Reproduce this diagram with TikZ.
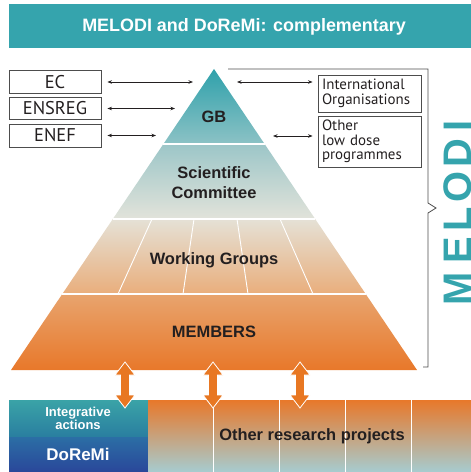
\documentclass[tikz,border=0pt]{standalone}
\usepackage{fontspec}
\setmainfont{Liberation Sans}
\newfontfamily\boxfont{PT Sans}
\usetikzlibrary{arrows.meta}
\definecolor{melteal}{HTML}{35A4AD}
\definecolor{gbtop}{HTML}{2FA1AB}
\definecolor{gbbot}{HTML}{8CC2C5}
\definecolor{sctop}{HTML}{9CC6C8}
\definecolor{scbot}{HTML}{E2E3DA}
\definecolor{wgtop}{HTML}{E5E1D6}
\definecolor{wgbot}{HTML}{E9AE7C}
\definecolor{metop}{HTML}{E8A46E}
\definecolor{mebot}{HTML}{E8782A}
\definecolor{ortop}{HTML}{E8782A}
\definecolor{ormid}{HTML}{E4E2DA}
\definecolor{orbot}{HTML}{A6CCD0}
\definecolor{iatop}{HTML}{3AA3A7}
\definecolor{iabot}{HTML}{2A7FA0}
\definecolor{drtop}{HTML}{2B6EA5}
\definecolor{drbot}{HTML}{2A479A}
\definecolor{txtdark}{HTML}{231F20}
\definecolor{boxgray}{HTML}{4D4D4D}
\definecolor{arrowor}{HTML}{E87722}
\tikzset{
  lab/.style={text=txtdark, inner sep=0pt, align=center, font=\fontsize{16.5}{20}\selectfont\bfseries},
  wlab/.style={text=white, inner sep=0pt, align=center},
  orgbox/.style={draw=boxgray, line width=0.9bp, text=txtdark, inner sep=0pt,
    font=\boxfont\fontsize{15}{14.5}\selectfont},
  leftbox/.style={orgbox, minimum width=92bp, font=\boxfont\fontsize{18.5}{20}\selectfont},
  link/.style={draw=txtdark, line width=0.7bp, {Stealth[length=4.5bp,width=3.5bp]}-{Stealth[length=4.5bp,width=3.5bp]}},
  sepline/.style={draw=white, line width=1.2bp},
  dblarrow/.style={fill=arrowor, draw=white, line width=0.8bp}
}
\begin{document}
\begin{tikzpicture}[x=1bp,y=-1bp]
\useasboundingbox (0,0) rectangle (471,472);
% title bar
\fill[melteal] (9,4) rectangle (471,48);
\node[wlab, font=\fontsize{18}{20}\selectfont\bfseries] (title) at (244,27) {MELODI and DoReMi: complementary};
% pyramid
\shade[top color=gbtop,bottom color=gbbot] (214,69) -- (264.6,144) -- (163.4,144) -- cycle;
\shade[top color=sctop,bottom color=scbot] (163.4,144) -- (264.6,144) -- (315.2,219) -- (112.8,219) -- cycle;
\shade[top color=wgtop,bottom color=wgbot] (112.8,219) -- (315.2,219) -- (365.7,294) -- (62.3,294) -- cycle;
\shade[top color=metop,bottom color=mebot] (62.3,294) -- (365.7,294) -- (417,370) -- (11,370) -- cycle;
\draw[sepline] (163.4,144) -- (264.6,144);
\draw[sepline] (112.8,219) -- (315.2,219);
\draw[sepline] (62.3,294) -- (365.7,294);
\draw[white, line width=0.9bp] (152,219) -- (118,294) (194,219) -- (183,294) (237,219) -- (248,294) (280,219) -- (313,294);
\node[lab] (gb) at (214,117) {GB};
\node[lab] (sc) at (214,183) {Scientific\\Committee};
\node[lab] (wg) at (214,260) {Working Groups};
\node[lab] (mem) at (214,332) {MEMBERS};
% left boxes
\node[leftbox, minimum height=23bp] (ec) at (55,82) {EC};
\node[leftbox, minimum height=22bp] (ensreg) at (55,108.5) {ENSREG};
\node[leftbox, minimum height=23bp] (enef) at (55,135.5) {ENEF};
\coordinate (ecT) at (193,82);
\coordinate (enT) at (175,108.5);
\coordinate (efT) at (156,135.5);
\draw[link] ([xshift=6bp]ec.east) -- (ecT);
\draw[link] ([xshift=6bp]ensreg.east) -- (enT);
\draw[link] ([xshift=6bp]enef.east) -- (efT);
% right boxes
\node[orgbox, minimum width=103bp, minimum height=37bp, text width=95bp, align=left] (io) at (369.5,93.5) {International\\Organisations};
\node[orgbox, minimum width=103bp, minimum height=51bp, text width=95bp, align=left] (ol) at (369.5,141.5) {Other\\low dose\\programmes};
\coordinate (ioL) at (237,82);
\coordinate (olL) at (273,136);
\coordinate (ioR) at ([xshift=-5bp]io.west);
\coordinate (olR) at ([xshift=-5bp]ol.west);
\draw[link] (ioL) -- (ioR |- ioL);
\draw[link] (olL) -- (olR |- olL);
% bracket
\draw[boxgray, line width=0.8bp] (228,69) -- (428,69) -- (428,203) -- (436,208) -- (428,213) -- (428,367) -- (423,367);
% MELODI
\node[rotate=90, anchor=north, inner sep=0pt, text=melteal, font=\fontsize{40}{40}\selectfont\bfseries] (mel) at (443,213)
  {M\hspace{9bp}E\hspace{5bp}L\hspace{5bp}O\hspace{4bp}D\hspace{7bp}I};
% bottom blocks
\shade[top color=iatop,bottom color=iabot] (9,400) rectangle (148,436);
\shade[top color=drtop,bottom color=drbot] (9,437) rectangle (148,472);
\shade[top color=ortop, middle color=ormid, bottom color=orbot] (148,400) rectangle (471,472);
\draw[white, line width=1bp] (213,400) -- (213,472) (279,400) -- (279,472) (345,400) -- (345,472) (411,400) -- (411,472);
\node[wlab, font=\fontsize{13}{12}\selectfont\bfseries] (ia) at (78,418) {Integrative\\actions};
\node[wlab, font=\fontsize{17}{20}\selectfont\bfseries] (dr) at (78,454) {DoReMi};
\node[lab] (orp) at (312,436) {Other research projects};
% double arrows
\foreach \x in {125,213,300}{
  \draw[dblarrow] (\x,362) -- (\x+10,375) -- (\x+4.5,375) -- (\x+4.5,395) -- (\x+10,395) -- (\x,408)
    -- (\x-10,395) -- (\x-4.5,395) -- (\x-4.5,375) -- (\x-10,375) -- cycle;
}
\end{tikzpicture}
\end{document}
